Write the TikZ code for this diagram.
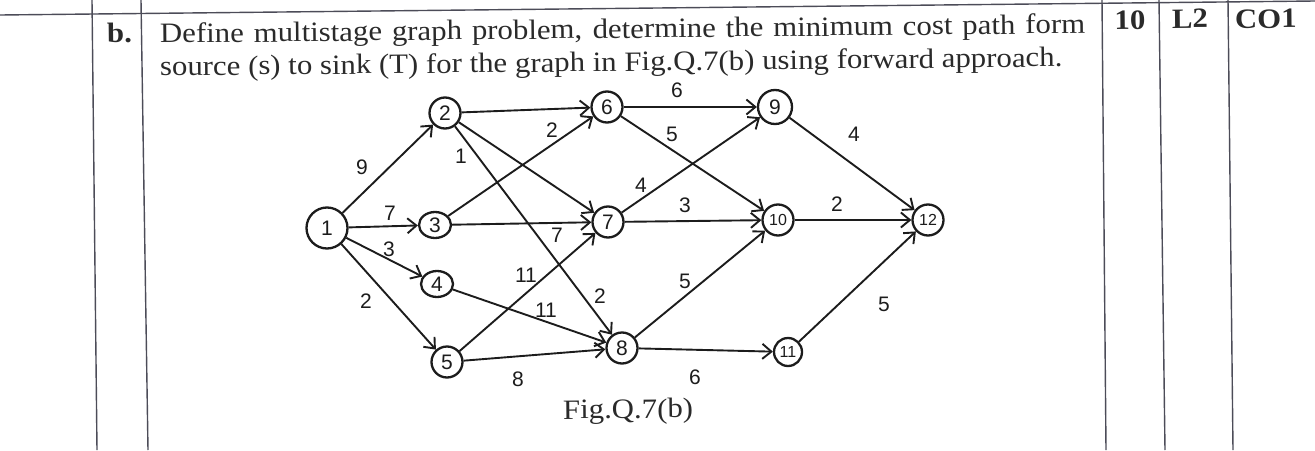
\documentclass[tikz,border=0pt]{standalone}
\usepackage{fontspec}
\setmainfont{Liberation Serif}[FakeStretch=1.1]
\setsansfont{Liberation Sans}
\usetikzlibrary{arrows.meta,shapes.geometric}
\definecolor{ink}{HTML}{1C1C1C}
\definecolor{printed}{HTML}{2A2A2A}
\definecolor{rulegray}{HTML}{4C4C58}
\newcommand{\qsize}{\fontsize{28}{34}\selectfont}
\tikzset{
  vertex/.style={
    circle, draw=ink, line width=2.3pt, text=ink,
    minimum size=#1, inner sep=0pt,
    font=\sffamily\fontsize{21}{21}\selectfont
  },
  vertex/.default=31pt,
  oval/.style={
    ellipse, draw=ink, line width=2.3pt, text=ink,
    minimum width=32pt, minimum height=26pt, inner sep=0pt,
    font=\sffamily\fontsize{21}{21}\selectfont
  },
  smallnum/.style={font=\sffamily\fontsize{16}{16}\selectfont},
  edge/.style={
    -{Straight Barb[length=9pt,width=15pt,line width=1.9pt]},
    line width=1.9pt, color=ink
  },
  wlabel/.style={
    font=\sffamily\fontsize{21}{21}\selectfont, text=ink, inner sep=0pt
  },
  tablerule/.style={draw=rulegray, line width=1.4pt},
  % ── printed question text (scan is tilted a little) ──
  qtext/.style={
    font=\qsize, text=printed, inner sep=0pt,
    anchor=base west, rotate=0.6
  },
  marks/.style={
    font=\qsize\bfseries, text=printed, inner sep=0pt,
    anchor=base, rotate=0.6
  },
}

\begin{document}
\begin{tikzpicture}[x=1pt, y=-1pt]
  \useasboundingbox (0,0) rectangle (1315,450);

  % table rules
  \draw[tablerule] (0,15) -- (1315,1);
  \draw[tablerule] (92,0) -- (97,450);
  \draw[tablerule] (141,0) -- (148,450);
  \draw[tablerule] (1102,0) -- (1106,450);
  \draw[tablerule] (1159,0) -- (1165,450);
  \draw[tablerule] (1228,0) -- (1233,450);

  % question
  \node[qtext, font=\qsize\bfseries] (qpart) at (107,43) {b.};
  \node[qtext] (qline1) at (160,43)
    {\makebox[925pt][s]{Define multistage graph problem, determine the minimum cost path form}};
  \node[qtext] (qline2) at (160,76)
    {source (s) to sink (T) for the graph in Fig.Q.7(b) using forward approach.};
  \node[marks] (qmarks) at (1130,29) {10};
  \node[marks] (qlevel) at (1190,28) {L2};
  \node[marks] (qco) at (1266,28) {CO1};

  % stages of the graph
  \node[vertex=41pt] (n1) at (327,228) {1};
  \node[vertex] (n2) at (445,113) {2};
  \node[oval] (n3) at (435,225) {3};
  \node[oval] (n4) at (437,284) {4};
  \node[vertex] (n5) at (447,362) {5};
  \node[vertex] (n6) at (607,107) {6};
  \node[vertex] (n7) at (608,222) {7};
  \node[vertex] (n8) at (622,348) {8};
  \node[vertex=34pt] (n9) at (775,107) {9};
  \node[vertex, smallnum] (n10) at (778,220) {10};
  \node[vertex=28pt, smallnum] (n11) at (788,352) {11};
  \node[vertex, smallnum] (n12) at (928,220) {12};

  % edges
  \draw[edge] (n1) -- (n2);
  \draw[edge] (n1) -- (n3);
  \draw[edge] (n1) -- (n4);
  \draw[edge] (n1) -- (n5);
  \draw[edge] (n2) -- (n6);
  \draw[edge] (n2) -- (n7);
  \draw[edge] (n2) -- (n8);
  \draw[edge] (n3) -- (n6);
  \draw[edge] (n3) -- (n7);
  \draw[edge] (n4) -- (n8);
  \draw[edge] (n5) -- (n7);
  \draw[edge] (n5) -- (n8);
  \draw[edge] (n6) -- (n9);
  \draw[edge] (n6) -- (n10);
  \draw[edge] (n7) -- (n9);
  \draw[edge] (n7) -- (n10);
  \draw[edge] (n8) -- (n10);
  \draw[edge] (n8) -- (n11);
  \draw[edge] (n9) -- (n12);
  \draw[edge] (n10) -- (n12);
  \draw[edge] (n11) -- (n12);

  % edge costs
  \node[wlabel] (c12) at (362,167) {9};
  \node[wlabel] (c13) at (390,213) {7};
  \node[wlabel] (c14) at (389,249) {3};
  \node[wlabel] (c15) at (366,301) {2};
  \node[wlabel] (c28) at (461,156) {1};
  \node[wlabel] (c36) at (552,130) {2};
  \node[wlabel] (c37) at (557,235) {7};
  \node[wlabel] (c82) at (600,296) {2};
  \node[wlabel] (c57) at (526,275) {11};
  \node[wlabel] (c48) at (546,310) {11};
  \node[wlabel] (c58) at (518,379) {8};
  \node[wlabel] (c69) at (677,90) {6};
  \node[wlabel] (c610) at (672,134) {5};
  \node[wlabel] (c79) at (641,185) {4};
  \node[wlabel] (c710) at (685,205) {3};
  \node[wlabel] (c810) at (685,281) {5};
  \node[wlabel] (c811) at (695,377) {6};
  \node[wlabel] (c912) at (854,134) {4};
  \node[wlabel] (c1012) at (837,204) {2};
  \node[wlabel] (c1112) at (884,304) {5};

  % caption
  \node[qtext] (fig) at (563,419) {Fig.Q.7(b)};
\end{tikzpicture}
\end{document}
